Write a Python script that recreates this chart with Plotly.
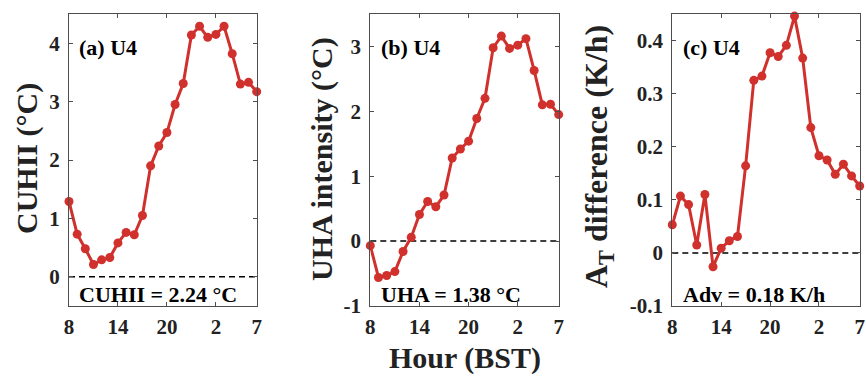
import plotly.graph_objects as go

hours = list(range(8, 32))  # 8 .. 31 (= 7 next day)
tick_vals = [8, 14, 20, 26, 31]
tick_text = ["8", "14", "20", "2", "7"]

cuhii = [1.29, 0.73, 0.48, 0.21, 0.29, 0.33, 0.58, 0.76, 0.72, 1.05, 1.90, 2.24,
         2.47, 2.95, 3.31, 4.14, 4.29, 4.10, 4.15, 4.29, 3.82, 3.30, 3.33, 3.17]
uha = [-0.07, -0.56, -0.53, -0.47, -0.16, 0.06, 0.41, 0.61, 0.53, 0.71, 1.28, 1.42,
       1.54, 1.89, 2.20, 2.98, 3.16, 2.97, 3.02, 3.12, 2.63, 2.10, 2.11, 1.95]
adv = [0.053, 0.107, 0.091, 0.015, 0.110, -0.026, 0.009, 0.023, 0.031, 0.164, 0.325, 0.333,
       0.377, 0.370, 0.391, 0.446, 0.367, 0.236, 0.183, 0.175, 0.148, 0.167, 0.145, 0.126]

panels = [
    dict(y=cuhii, rng=[-0.5, 4.5], ticks=[0, 1, 2, 3, 4], tl=["0", "1", "2", "3", "4"],
         label="(a) U4", stat="CUHII = 2.24 °C", title="CUHII (°C)"),
    dict(y=uha, rng=[-1, 3.5], ticks=[-1, 0, 1, 2, 3], tl=["-1", "0", "1", "2", "3"],
         label="(b) U4", stat="UHA = 1.38 °C", title="UHA intensity (°C)"),
    dict(y=adv, rng=[-0.1, 0.45], ticks=[-0.1, 0, 0.1, 0.2, 0.3, 0.4],
         tl=["-0.1", "0", "0.1", "0.2", "0.3", "0.4"],
         label="(c) U4", stat="Adv = 0.18 K/h", title="A<sub>T</sub> difference (K/h)"),
]

W, H = 866, 383
x_dom_px = [(69, 256.7), (370.3, 558.7), (672.3, 859.7)]
y_top, y_bot = 14, 306
ydom = [1 - y_bot / H, 1 - y_top / H]
ytitle_x = [27, 322, 599]
ytitle_y = [159, 159, 157]
ytitle_size = [30, 30, 32]

FONT = "Liberation Serif"
RED = "#D0312D"
AX = "#4d4d4d"

fig = go.Figure()
layout = dict(width=W, height=H, margin=dict(l=0, r=0, t=0, b=0, autoexpand=False),
              paper_bgcolor="white", plot_bgcolor="white", showlegend=False,
              font=dict(family=FONT, color="#222222", size=21, weight="bold"))
annotations = []
shapes = []

for i, p in enumerate(panels):
    n = "" if i == 0 else str(i + 1)
    xa, ya = "x" + n, "y" + n
    fig.add_trace(go.Scatter(x=hours, y=p["y"], mode="lines+markers",
                             line=dict(color=RED, width=3),
                             marker=dict(color=RED, size=9),
                             cliponaxis=False, xaxis=xa, yaxis=ya))
    x0, x1 = x_dom_px[i]
    layout["xaxis" + n] = dict(domain=[x0 / W, x1 / W], range=[8, 31], anchor=ya,
                               tickvals=tick_vals, ticktext=tick_text, automargin=False,
                               ticks="inside", ticklen=4, tickcolor=AX, tickwidth=1,
                               showline=True, linecolor=AX, linewidth=1, mirror="ticks",
                               showgrid=False, zeroline=False,
                               tickfont=dict(family=FONT, size=21, color="#222222", weight="bold"),
                               ticklabelstandoff=2)
    layout["yaxis" + n] = dict(domain=ydom, range=p["rng"], anchor=xa,
                               tickvals=p["ticks"], ticktext=p["tl"], automargin=False,
                               ticks="inside", ticklen=4, tickcolor=AX, tickwidth=1,
                               showline=True, linecolor=AX, linewidth=1, mirror="ticks",
                               showgrid=False, zeroline=False,
                               tickfont=dict(family=FONT, size=21, color="#222222", weight="bold"),
                               ticklabelstandoff=4)
    shapes.append(dict(type="line", xref=xa + " domain", yref=ya, x0=0, x1=1, y0=0, y1=0,
                       line=dict(color="black", width=1.5, dash="6px,4px"), layer="below"))
    annotations.append(dict(text=p["label"], xref=xa + " domain", yref=ya + " domain",
                            x=0.045, y=0.884, xanchor="left", yanchor="middle", showarrow=False,
                            font=dict(family=FONT, size=22, color="black", weight="bold")))
    annotations.append(dict(text=p["stat"], xref=xa + " domain", yref=ya + " domain",
                            x=0.045, y=0.04, xanchor="left", yanchor="middle", showarrow=False,
                            font=dict(family=FONT, size=22, color="black", weight="bold")))
    annotations.append(dict(text=p["title"], xref="paper", yref="paper",
                            x=ytitle_x[i] / W, y=1 - ytitle_y[i] / H, xanchor="center",
                            yanchor="middle", textangle=-90, showarrow=False,
                            font=dict(family=FONT, size=ytitle_size[i], color="#222222",
                                      weight="bold")))

annotations.append(dict(text="Hour (BST)", xref="paper", yref="paper",
                        x=465 / W, y=1 - 358 / H, xanchor="center", yanchor="middle",
                        showarrow=False,
                        font=dict(family=FONT, size=30, color="#222222", weight="bold")))

layout["annotations"] = annotations
layout["shapes"] = shapes
fig.update_layout(**layout)
fig.write_html("out.html")
